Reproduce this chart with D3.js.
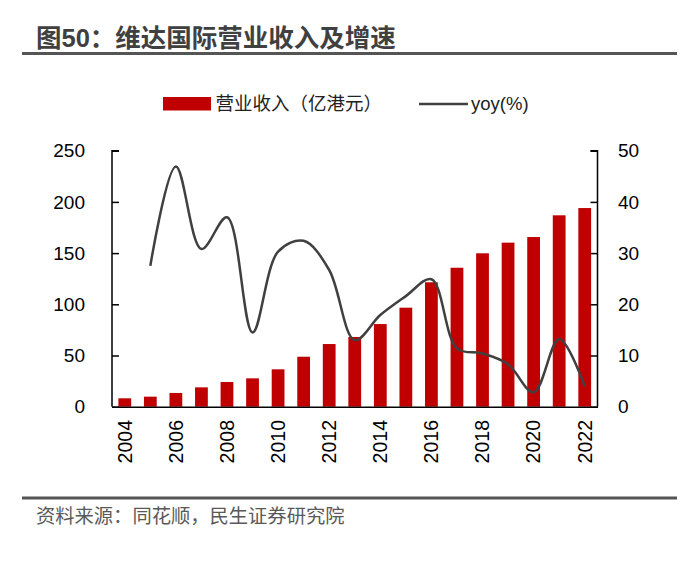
<!DOCTYPE html>
<html><head><meta charset="utf-8">
<script src="https://cdn.jsdelivr.net/npm/d3@7"></script>
<style>
body{margin:0;background:#fff;}
text{font-family:"Liberation Sans","Noto Sans CJK SC",sans-serif;}
</style></head>
<body><svg id="c" width="700" height="588"></svg>
<script>
const years = ["2004","2005","2006","2007","2008","2009","2010","2011","2012","2013","2014","2015","2016","2017","2018","2019","2020","2021","2022"];
const revenue = [8.2,9.8,13.4,18.9,24.1,27.7,36.5,48.8,61.2,68.1,80.7,96.7,121.5,135.7,149.8,160.2,165.7,186.9,194];
const yoy = [null,27.5,46.9,30.8,37.0,14.5,30.3,32.4,26.7,13.0,17.9,21.6,24.9,11.4,10.4,8.3,2.8,13.2,4.0];
const leftTicks = [0,50,100,150,200,250];
const rightTicks = [0,10,20,30,40,50];
const xTickLabels = ["2004","2006","2008","2010","2012","2014","2016","2018","2020","2022"];

const svg = d3.select("#c");
const L = 112, R = 597.5, T = 150.7, B = 406.7;
const x = d3.scaleBand().domain(years).range([L, R]).paddingInner(0.5).paddingOuter(0.25);
const yL = d3.scaleLinear().domain([0,250]).range([B, T]);
const yR = d3.scaleLinear().domain([0,50]).range([B, T]);

// title
svg.append("text").attr("x",36).attr("y",47).attr("font-size",25.5).attr("font-weight","bold")
  .attr("fill","#404040").text("图50：维达国际营业收入及增速");
svg.append("line").attr("x1",22).attr("x2",677).attr("y1",53.5).attr("y2",53.5)
  .attr("stroke","#555").attr("stroke-width",3);

// legend
svg.append("rect").attr("x",163).attr("y",97).attr("width",48).attr("height",13.5).attr("fill","#C00000");
svg.append("text").attr("x",215.5).attr("y",110).attr("font-size",18.5).attr("fill","#222").text("营业收入（亿港元）");
svg.append("line").attr("x1",419).attr("x2",468).attr("y1",104).attr("y2",104).attr("stroke","#404040").attr("stroke-width",2.5);
svg.append("text").attr("x",471).attr("y",110).attr("font-size",18.5).attr("fill","#222").text("yoy(%)");

// bars
svg.append("g").selectAll("rect").data(years).join("rect")
  .attr("x", d => x(d)).attr("width", x.bandwidth())
  .attr("y", (d,i) => yL(revenue[i])).attr("height", (d,i) => B - yL(revenue[i]))
  .attr("fill","#C00000");

// line
const pts = years.map((d,i)=>({x: x(d)+x.bandwidth()/2, v: yoy[i]})).filter(p=>p.v!==null);
svg.append("path").datum(pts)
  .attr("d", d3.line().x(p=>p.x).y(p=>yR(p.v)).curve(d3.curveCatmullRom.alpha(0.5)))
  .attr("fill","none").attr("stroke","#404040").attr("stroke-width",2.5);

// axes
const gL = svg.append("g").attr("transform",`translate(${L},0)`)
  .call(d3.axisRight(yL).tickValues(leftTicks).tickSize(7).tickFormat(""));
gL.selectAll("path,line").attr("stroke","#000").attr("stroke-width",1.5);
gL.select(".domain").attr("d",`M7,${T}H0V${B}`);
svg.append("g").selectAll("text").data(leftTicks).join("text")
  .attr("x",85).attr("y",d=>yL(d)).attr("dy","0.35em").attr("text-anchor","end")
  .attr("font-size",19).attr("fill","#000").text(d=>d);

const gR = svg.append("g").attr("transform",`translate(${R},0)`)
  .call(d3.axisLeft(yR).tickValues(rightTicks).tickSize(7).tickFormat(""));
gR.selectAll("path,line").attr("stroke","#000").attr("stroke-width",1.5);
gR.select(".domain").attr("d",`M-7,${T}H0V${B}`);
svg.append("g").selectAll("text").data(rightTicks).join("text")
  .attr("x",618).attr("y",d=>yR(d)).attr("dy","0.35em").attr("text-anchor","start")
  .attr("font-size",19).attr("fill","#000").text(d=>d);

const gB = svg.append("g").attr("transform",`translate(0,${B})`)
  .call(d3.axisBottom(x).tickValues(xTickLabels).tickSize(0).tickFormat(""));
gB.select(".domain").attr("stroke","#000").attr("stroke-width",1.5);
svg.append("g").selectAll("text").data(xTickLabels).join("text")
  .attr("transform", d => `translate(${x(d)+x.bandwidth()/2},420) rotate(-90)`)
  .attr("text-anchor","end").attr("dy","0.35em")
  .attr("font-size",19.5).attr("fill","#000").text(d=>d);

// source
svg.append("line").attr("x1",22).attr("x2",677).attr("y1",498).attr("y2",498)
  .attr("stroke","#555").attr("stroke-width",3);
svg.append("text").attr("x",36).attr("y",523).attr("font-size",19.3).attr("fill","#595959")
  .text("资料来源：同花顺，民生证券研究院");
</script></body></html>
